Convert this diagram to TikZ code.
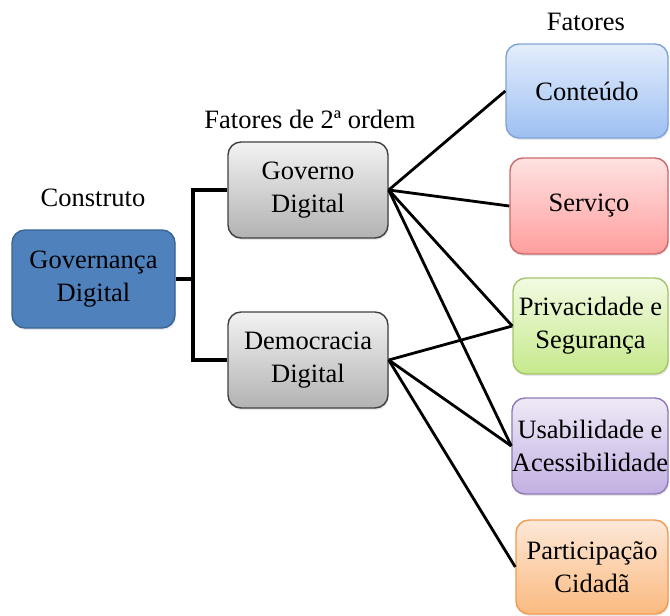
\documentclass[tikz,border=0pt]{standalone}
\usepackage{fontspec}
\setmainfont{LiberationSerif}[Extension=.ttf, UprightFont=*-Regular, BoldFont=*-Bold]
\usetikzlibrary{shadows}

\definecolor{govfill}{HTML}{4F81BD}
\definecolor{govedge}{HTML}{3A6494}
\definecolor{contop}{HTML}{E4EEFC}
\definecolor{conbot}{HTML}{9DBFF2}
\definecolor{conedge}{HTML}{7FA3D6}
\definecolor{sertop}{HTML}{FFE2E2}
\definecolor{serbot}{HTML}{FF9E9E}
\definecolor{seredge}{HTML}{C96B69}
\definecolor{pritop}{HTML}{F2FBE2}
\definecolor{pribot}{HTML}{C6E98C}
\definecolor{priedge}{HTML}{A5C56A}
\definecolor{usatop}{HTML}{EEE9F6}
\definecolor{usabot}{HTML}{C2B0E2}
\definecolor{usaedge}{HTML}{9079B6}
\definecolor{partop}{HTML}{FDE8D8}
\definecolor{parbot}{HTML}{FBBA80}
\definecolor{paredge}{HTML}{F39A50}

\begin{document}
\begin{tikzpicture}[x=1pt, y=-1pt, align=center, line width=2.8pt,
  font=\rmfamily\fontsize{26.5}{33}\selectfont,
  box/.style={rounded corners=13pt, line width=1.4pt, inner sep=0pt,
    minimum height=96pt, drop shadow={opacity=0.18, shadow xshift=1pt, shadow yshift=-2pt}},
  gray box/.style={box, draw=black!75, top color=black!5, bottom color=black!30, minimum width=160pt}]
\useasboundingbox (0,0) rectangle (670,616);

\node (c1) at (93,198) {Construto};
\node (c2) at (310,119) {Fatores de 2ª ordem};
\node (c3) at (586,22) {Fatores};

\node[box, draw=govedge, fill=govfill, minimum width=163pt, minimum height=98pt] (1) at (93.5,279) {Governança\\Digital};
\node[gray box] (2) at (308,190) {Governo\\Digital};
\node[gray box] (3) at (308,360) {Democracia\\Digital};
\node[box, draw=conedge, top color=contop, bottom color=conbot, minimum width=162pt, minimum height=94pt] (4) at (587,91) {Conteúdo};
\node[box, draw=seredge, top color=sertop, bottom color=serbot, minimum width=158pt] (5) at (589,206) {Serviço};
\node[box, draw=priedge, top color=pritop, bottom color=pribot, minimum width=155pt] (6) at (590.5,326) {Privacidade e\\Segurança};
\node[box, draw=usaedge, top color=usatop, bottom color=usabot, minimum width=156pt] (7) at (590,446) {Usabilidade e\\Acessibilidade};
\node[box, draw=paredge, top color=partop, bottom color=parbot, minimum width=152pt, minimum height=94pt] (8) at (592,567) {Participação\\Cidadã};

\coordinate (j) at (193,279);
\draw[line width=3.2pt] (1.east) -- (j) |- (2.west);
\draw[line width=3.2pt] (j) |- (3.west);

\path (2.east) edge (4.west)
      (2.east) edge (5.west)
      (2.east) edge (6.west)
      (2.east) edge (7.west)
      (3.east) edge (6.west)
      (3.east) edge (7.west)
      (3.east) edge (8.west);
\end{tikzpicture}
\end{document}
